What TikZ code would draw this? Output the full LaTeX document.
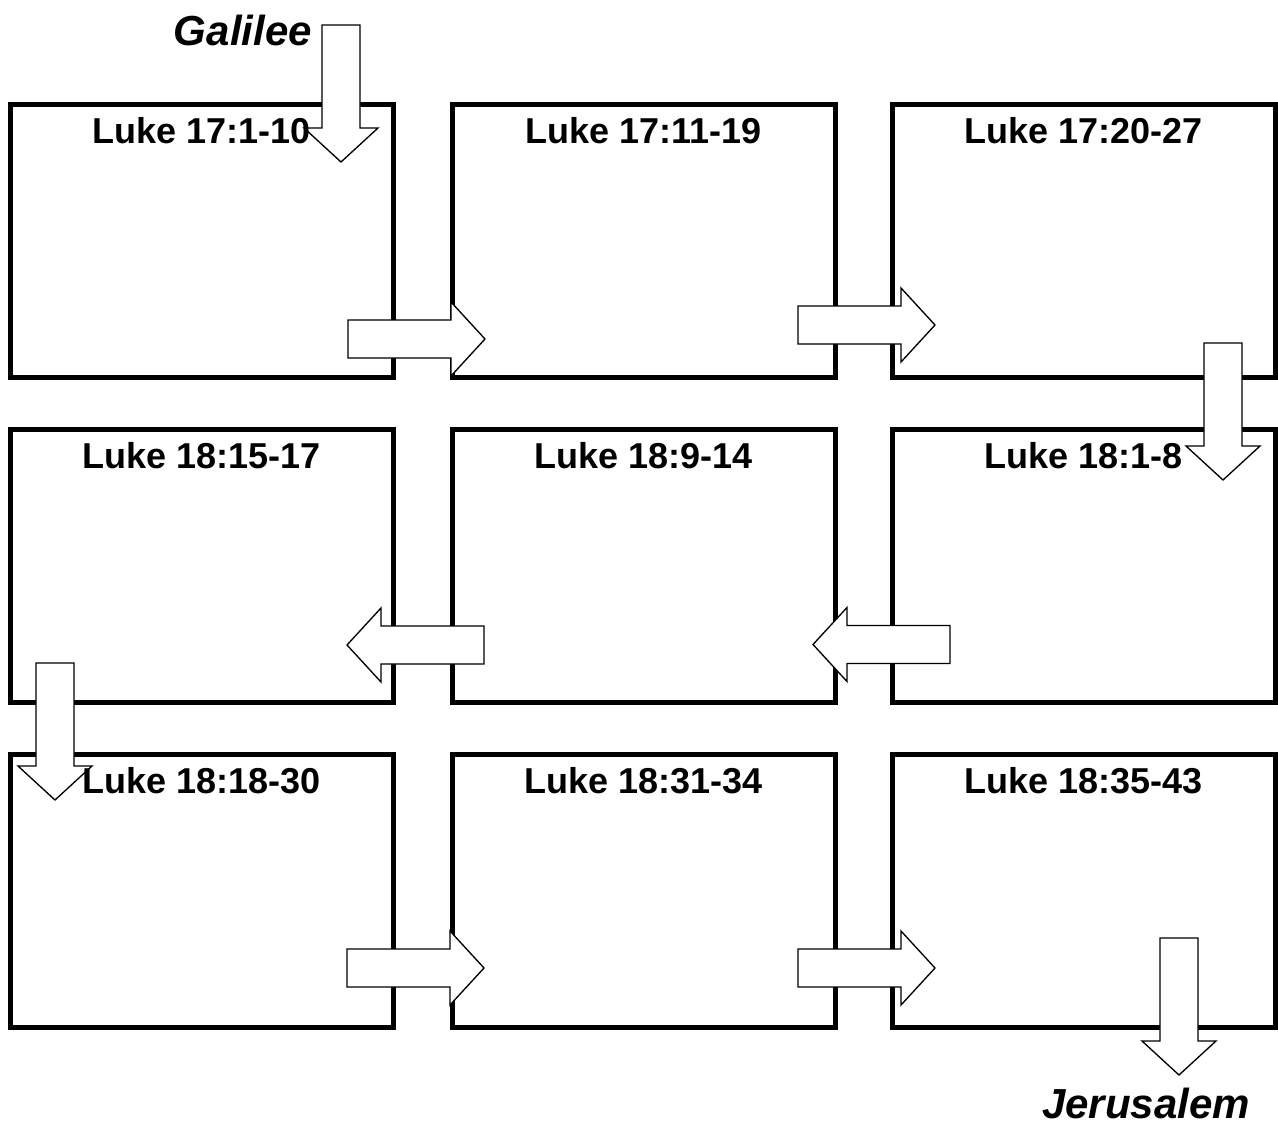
\documentclass[tikz,border=0pt]{standalone}
\usepackage{fontspec}
\setmainfont{Liberation Sans}
\usetikzlibrary{calc}
\newcommand\blkarrow[3]{%
  \draw[blk, shift={#2}, rotate=#3] (0,-19) -- (103,-19) -- (103,-37) -- (137,0)
    -- (103,37) -- (103,19) -- (0,19) -- cycle;
  \coordinate (#1) at #2;}
\begin{document}
\begin{tikzpicture}[x=0.75pt,y=-0.75pt,
  panel/.style={draw, line width=3.75pt, minimum width=287.25pt, minimum height=204.75pt, inner sep=0pt, outer sep=0pt},
  ref/.style={font=\bfseries\fontsize{27}{30}\selectfont, anchor=base, inner sep=0pt},
  place/.style={font=\bfseries\itshape\fontsize{31.5}{34}\selectfont, inner sep=0pt},
  blk/.style={draw, fill=white, line width=1pt, line join=miter}]
\useasboundingbox (0,0) rectangle (1278,1128);
% panels
\node[panel] (b1) at (201.5,240.5) {};
\node[panel] (b2) at (643.5,240.5) {};
\node[panel] (b3) at (1084,240.5) {};
\node[panel] (b6) at (201.5,566) {};
\node[panel] (b5) at (643.5,566) {};
\node[panel] (b4) at (1084,566) {};
\node[panel] (b7) at (201.5,890.5) {};
\node[panel] (b8) at (643.5,890.5) {};
\node[panel] (b9) at (1084,890.5) {};
% arrows
\blkarrow{a0}{(341,25)}{-90}
\blkarrow{a1}{(348,339)}{0}
\blkarrow{a2}{(798,325)}{0}
\blkarrow{a3}{(1223,343)}{-90}
\blkarrow{a4}{(950,644.5)}{180}
\blkarrow{a5}{(484,645)}{180}
\blkarrow{a6}{(55,663)}{-90}
\blkarrow{a7}{(347,968)}{0}
\blkarrow{a8}{(798,968)}{0}
\blkarrow{a9}{(1179,938)}{-90}
% labels
\node[ref] (t1) at ($(b1.north)+(0,39)$) {Luke 17:1-10};
\node[ref] (t2) at ($(b2.north)+(0,39)$) {Luke 17:11-19};
\node[ref] (t3) at ($(b3.north)+(0,39)$) {Luke 17:20-27};
\node[ref] (t4) at ($(b4.north)+(0,39)$) {Luke 18:1-8};
\node[ref] (t5) at ($(b5.north)+(0,39)$) {Luke 18:9-14};
\node[ref] (t6) at ($(b6.north)+(0,39)$) {Luke 18:15-17};
\node[ref] (t7) at ($(b7.north)+(0,39)$) {Luke 18:18-30};
\node[ref] (t8) at ($(b8.north)+(0,39)$) {Luke 18:31-34};
\node[ref] (t9) at ($(b9.north)+(0,39)$) {Luke 18:35-43};
\node[place, anchor=base east] (gal) at (312,45) {Galilee};
\node[place, anchor=base] (jer) at (1146,1118) {Jerusalem};
\end{tikzpicture}
\end{document}
